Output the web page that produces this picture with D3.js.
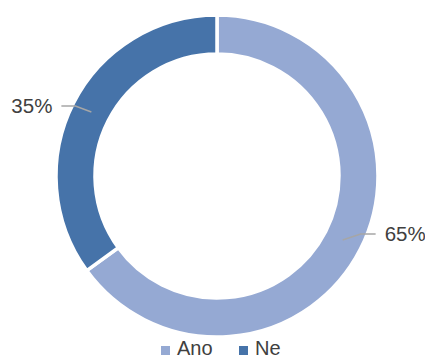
<!DOCTYPE html>
<html>
<head>
<meta charset="utf-8">
<script src="https://cdn.jsdelivr.net/npm/d3@7"></script>
<style>
  html, body { margin: 0; padding: 0; background: #fff; overflow: hidden; }
  svg { display: block; font-family: "Liberation Sans", "DejaVu Sans", sans-serif; }
</style>
</head>
<body>
<svg id="chart" width="425" height="361"></svg>
<script>
// Survey answers (share of respondents)
const categories = ["Ano", "Ne"];
const values = [65, 35];
const labels = ["65%", "35%"];
const colors = ["#95a9d3", "#4673a9"];

const svg = d3.select("#chart");
const cx = 217, cy = 176;
const outerR = 161, innerR = 122;

const pie = d3.pie().sort(null).value(d => d.value);
const arcs = pie(categories.map((c, i) => ({ name: c, value: values[i], label: labels[i], color: colors[i] })));

const arc = d3.arc().innerRadius(innerR).outerRadius(outerR);
const midArc = d3.arc().innerRadius(141).outerRadius(141);

const g = svg.append("g").attr("transform", `translate(${cx},${cy})`);

g.selectAll("path.slice")
  .data(arcs)
  .join("path")
  .attr("class", "slice")
  .attr("d", arc)
  .attr("fill", d => d.data.color)
  .attr("stroke", "#fff")
  .attr("stroke-width", 3.5);

// Leader lines and percentage labels
arcs.forEach(d => {
  const [mx, my] = midArc.centroid(d);
  const mid = (d.startAngle + d.endAngle) / 2;
  const right = Math.sin(mid) > 0;
  const ex = mx + (right ? 18 : -16);
  const ey = my - 6;
  const hx = ex + (right ? 15 : -14);
  g.append("polyline")
    .attr("points", `${mx},${my} ${ex},${ey} ${hx},${ey}`)
    .attr("fill", "none")
    .attr("stroke", "#a6a6a6")
    .attr("stroke-width", 1.5);
  g.append("text")
    .attr("x", hx + (right ? 9 : -9))
    .attr("y", ey)
    .attr("dy", "0.35em")
    .attr("text-anchor", right ? "start" : "end")
    .attr("font-size", 20.5)
    .attr("fill", "#404040")
    .text(d.data.label);
});

// Legend
const legend = svg.append("g");
const legendX = [161, 239];
categories.forEach((c, i) => {
  legend.append("rect")
    .attr("x", legendX[i]).attr("y", 346)
    .attr("width", 9).attr("height", 9)
    .attr("fill", colors[i]);
  legend.append("text")
    .attr("x", legendX[i] + 16).attr("y", 355)
    .attr("font-size", 20)
    .attr("fill", "#404040")
    .text(c);
});
</script>
</body>
</html>
